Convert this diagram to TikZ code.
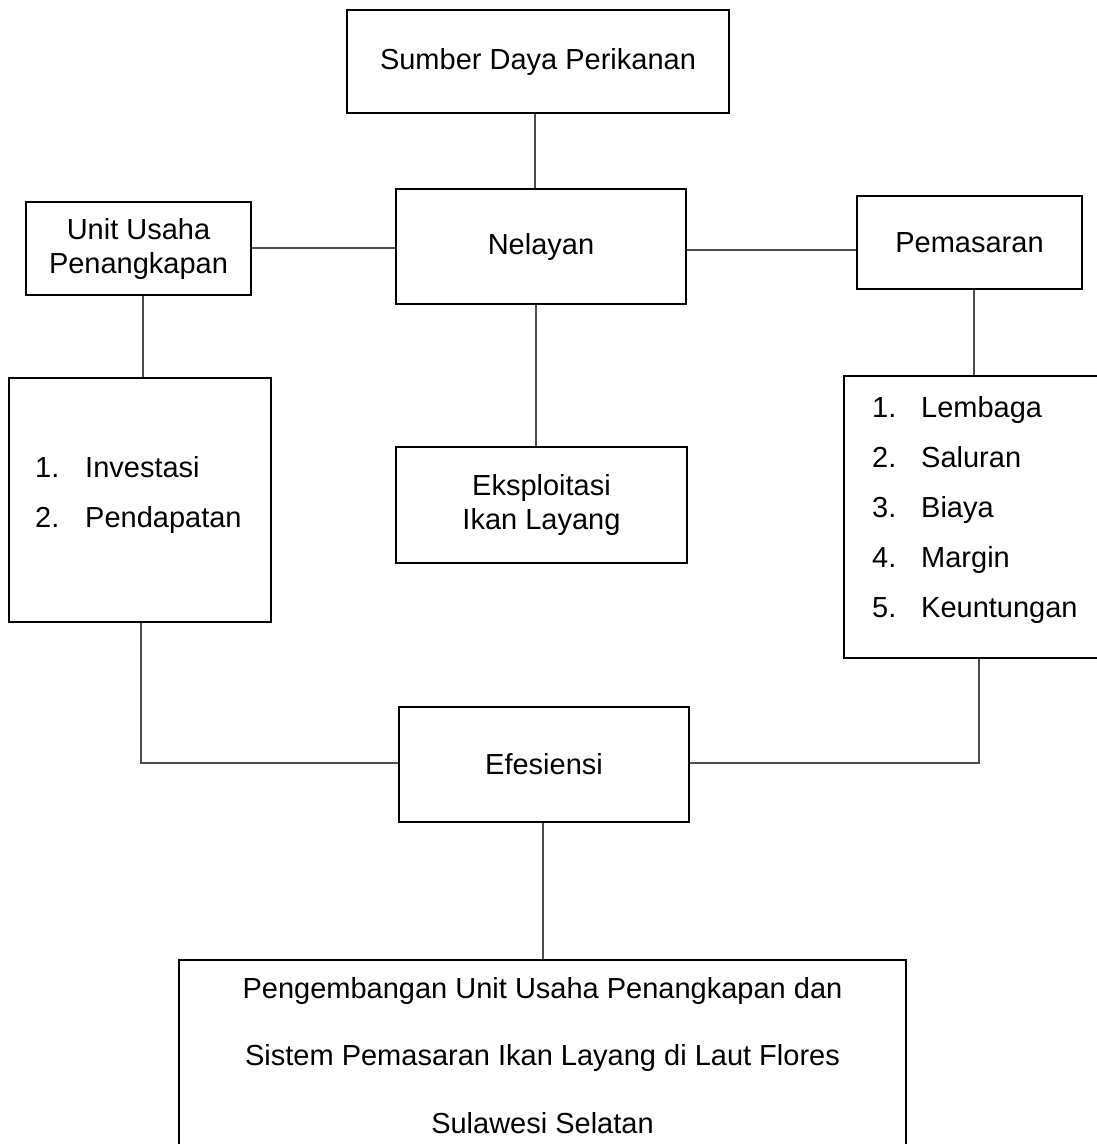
\documentclass[tikz,border=0pt]{standalone}
\usepackage{fontspec}
\setmainfont{Liberation Sans}
\begin{document}
\begin{tikzpicture}[x=1pt,y=-1pt,
  box/.style={draw=black, line width=2.8pt, inner sep=0pt, align=center,
    font=\fontsize{29}{34}\selectfont},
  conn/.style={draw=black!70, line width=1.3pt},
  item/.style={anchor=base west, inner sep=0pt, font=\fontsize{29}{34}\selectfont},
  line/.style={anchor=base, inner sep=0pt, font=\fontsize{29}{34}\selectfont}]
\fill[white] (0,0) rectangle (1097,1144);
\useasboundingbox (0,0) rectangle (1097,1144);

% boxes
\node[box, minimum width=382pt, minimum height=103pt] (sumber) at (538,61.5) {Sumber Daya Perikanan};
\node[box, minimum width=290pt, minimum height=115pt] (nelayan) at (541,246.5) {Nelayan};
\node[box, minimum width=225pt, minimum height=93pt] (unit) at (138.5,248.5) {Unit Usaha\\Penangkapan};
\node[box, minimum width=225pt, minimum height=93pt] (pemasaran) at (969.5,242.5) {Pemasaran};
\node[box, minimum width=262pt, minimum height=244pt] (leftlist) at (140,500) {};
\node[box, minimum width=291pt, minimum height=116pt] (eksp) at (541.5,505) {Eksploitasi\\Ikan Layang};
\node[box, minimum width=256pt, minimum height=282pt] (rightlist) at (972,517) {};
\node[box, minimum width=290pt, minimum height=115pt] (efes) at (544,764.5) {Efesiensi};
\node[box, minimum width=727pt, minimum height=200pt] (bottom) at (542.5,1060) {};

% left list
\node[item] (ln1) at (35,477) {1.};
\node[item] (lt1) at (85,477) {Investasi};
\node[item] (ln2) at (35,527) {2.};
\node[item] (lt2) at (85,527) {Pendapatan};

% right list
\node[item] (rn1) at (872,417) {1.};
\node[item] (rt1) at (921,417) {Lembaga};
\node[item] (rn2) at (872,467) {2.};
\node[item] (rt2) at (921,467) {Saluran};
\node[item] (rn3) at (872,517) {3.};
\node[item] (rt3) at (921,517) {Biaya};
\node[item] (rn4) at (872,567) {4.};
\node[item] (rt4) at (921,567) {Margin};
\node[item] (rn5) at (872,617) {5.};
\node[item] (rt5) at (921,617) {Keuntungan};

% bottom text
\node[line] (b1) at (542.5,998) {Pengembangan Unit Usaha Penangkapan dan};
\node[line] (b2) at (542.5,1065) {Sistem Pemasaran Ikan Layang di Laut Flores};
\node[line] (b3) at (542.5,1133) {Sulawesi Selatan};

% helper coordinates for connector positions
\coordinate (vA) at (535,0);
\coordinate (vB) at (536,0);
\coordinate (vC) at (143,0);
\coordinate (vD) at (974,0);
\coordinate (vE) at (141,0);
\coordinate (vF) at (979,0);
\coordinate (vG) at (543,0);
\coordinate (hA) at (0,248);
\coordinate (hB) at (0,250);
\coordinate (hE) at (0,763);

% connectors
\draw[conn] (sumber.south -| vA) -- (nelayan.north -| vA);
\draw[conn] (unit.east |- hA) -- (nelayan.west |- hA);
\draw[conn] (nelayan.east |- hB) -- (pemasaran.west |- hB);
\draw[conn] (unit.south -| vC) -- (leftlist.north -| vC);
\draw[conn] (pemasaran.south -| vD) -- (rightlist.north -| vD);
\draw[conn] (nelayan.south -| vB) -- (eksp.north -| vB);
\draw[conn] (leftlist.south -| vE) -- (vE |- hE) -- (efes.west |- hE);
\draw[conn] (rightlist.south -| vF) -- (vF |- hE) -- (efes.east |- hE);
\draw[conn] (efes.south -| vG) -- (bottom.north -| vG);
\end{tikzpicture}
\end{document}
